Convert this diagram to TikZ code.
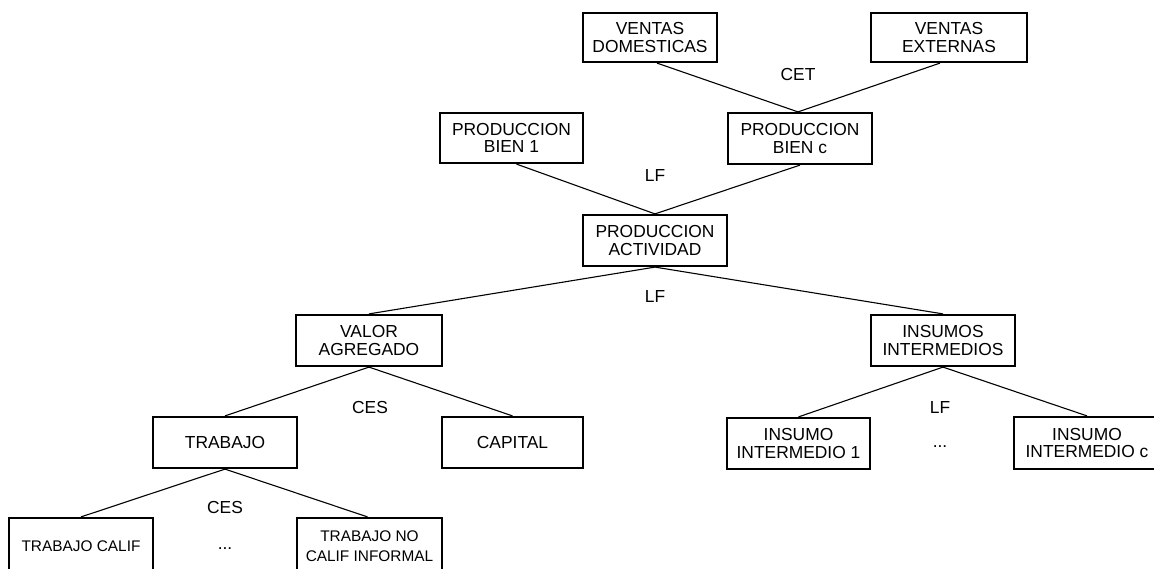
\documentclass[tikz,border=0pt]{standalone}
\usepackage{fontspec}
\setmainfont{Liberation Sans}
\begin{document}
\begin{tikzpicture}[x=1pt,y=-1pt,
  box/.style={draw,line width=2.2pt,inner sep=0pt,align=center,font=\fontsize{17.4}{17.5}\selectfont},
  sbox/.style={box,font=\fontsize{15.4}{20}\selectfont},
  lbl/.style={inner sep=0pt,font=\fontsize{17.4}{17.5}\selectfont},
  conn/.style={line width=1.1pt}]
\useasboundingbox (0,0) rectangle (1154,569);
\node[box,minimum width=134pt,minimum height=49pt] (VD) at (650,37.5) {VENTAS\\DOMESTICAS};
\node[box,minimum width=156pt,minimum height=49pt] (VE) at (949,37.5) {VENTAS\\EXTERNAS};
\node[box,minimum width=144pt,minimum height=51pt] (PBc) at (800,138.5) {PRODUCCION\\BIEN c};
\node[box,minimum width=143pt,minimum height=50pt] (PB1) at (511.5,138) {PRODUCCION\\BIEN 1};
\node[box,minimum width=144pt,minimum height=51pt] (PA) at (655,240.5) {PRODUCCION\\ACTIVIDAD};
\node[box,minimum width=146pt,minimum height=51pt] (VA) at (369,340.5) {VALOR\\AGREGADO};
\node[box,minimum width=144pt,minimum height=51pt] (II) at (943,340.5) {INSUMOS\\INTERMEDIOS};
\node[box,minimum width=144pt,minimum height=51pt] (TR) at (225,442.5) {TRABAJO};
\node[box,minimum width=141pt,minimum height=51pt] (CAP) at (512.5,442.5) {CAPITAL};
\node[box,minimum width=143pt,minimum height=51pt] (IM1) at (798.5,443.5) {INSUMO\\INTERMEDIO 1};
\node[box,minimum width=146pt,minimum height=52pt] (IMc) at (1087,443) {INSUMO\\INTERMEDIO c};
\node[sbox,minimum width=144pt,minimum height=56pt] (TC) at (81,546) {TRABAJO CALIF};
\node[sbox,minimum width=145pt,minimum height=56pt] (TNC) at (369.5,546) {TRABAJO NO\\CALIF INFORMAL};
\node[lbl] (lcet) at (798,75) {CET};
\node[lbl] (llf1) at (655,176) {LF};
\node[lbl] (llf2) at (655,297) {LF};
\node[lbl] (lces1) at (370,408) {CES};
\node[lbl] (lces2) at (225,508) {CES};
\node[lbl] (ldots1) at (225,549) {...};
\node[lbl] (llf3) at (940,408) {LF};
\node[lbl] (ldots2) at (940,447) {...};
\draw[conn] ([xshift=7pt]VD.south) -- ([xshift=-2pt]PBc.north);
\draw[conn] ([xshift=-9pt]VE.south) -- ([xshift=-2pt]PBc.north);
\draw[conn] ([xshift=5pt]PB1.south) -- (PA.north);
\draw[conn] (PBc.south) -- (PA.north);
\draw[conn] (PA.south) -- (VA.north);
\draw[conn] (PA.south) -- (II.north);
\draw[conn] (VA.south) -- (TR.north);
\draw[conn] (VA.south) -- (CAP.north);
\draw[conn] (II.south) -- (IM1.north);
\draw[conn] (II.south) -- (IMc.north);
\draw[conn] (TR.south) -- (TC.north);
\draw[conn] (TR.south) -- ([xshift=-2pt]TNC.north);
\end{tikzpicture}
\end{document}
